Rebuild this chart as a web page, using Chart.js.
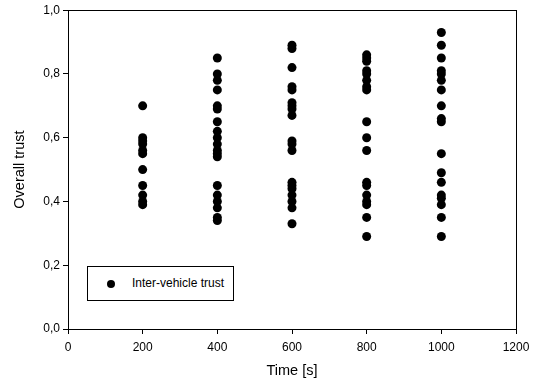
<!DOCTYPE html>
<html>
<head>
<meta charset="utf-8">
<script src="https://cdn.jsdelivr.net/npm/chart.js@4/dist/chart.umd.min.js"></script>
<style>
  html, body { margin: 0; padding: 0; background: #fff; }
  #wrap { position: relative; width: 543px; height: 390px; }
  #legend {
    position: absolute; left: 87px; top: 266px; width: 147px; height: 35px;
    border: 1px solid #000; box-sizing: border-box; background: #fff;
    font-family: "Liberation Sans", Arial, sans-serif; font-size: 12px; color: #000;
  }
  #legend .dot {
    position: absolute; left: 19px; top: 13px; width: 8px; height: 8px;
    border-radius: 50%; background: #000;
  }
  #legend .txt { position: absolute; left: 44px; top: 9px; }
</style>
</head>
<body>
<div id="wrap">
  <canvas id="trustChart" width="543" height="390"></canvas>
  <div id="legend"><span class="dot"></span><span class="txt">Inter-vehicle trust</span></div>
</div>
<script>
// time steps and trust values
const times = [200, 400, 600, 800, 1000];
const trust200 = [0.70, 0.60, 0.59, 0.58, 0.56, 0.55, 0.50, 0.45, 0.42, 0.40, 0.39];
const trust400 = [0.85, 0.80, 0.78, 0.75, 0.70, 0.69, 0.65, 0.62, 0.60, 0.58, 0.56, 0.55, 0.54, 0.45, 0.42, 0.40, 0.38, 0.35, 0.34];
const trust600 = [0.89, 0.88, 0.82, 0.76, 0.75, 0.71, 0.70, 0.69, 0.67, 0.59, 0.58, 0.56, 0.46, 0.45, 0.44, 0.42, 0.40, 0.38, 0.33];
const trust800 = [0.86, 0.85, 0.84, 0.81, 0.80, 0.78, 0.76, 0.75, 0.65, 0.60, 0.56, 0.46, 0.45, 0.42, 0.40, 0.39, 0.35, 0.29];
const trust1000 = [0.93, 0.89, 0.85, 0.81, 0.80, 0.78, 0.75, 0.70, 0.66, 0.65, 0.55, 0.49, 0.46, 0.42, 0.41, 0.39, 0.35, 0.29];
const xTicks = [0, 200, 400, 600, 800, 1000, 1200];
const yTicks = [0, 0.2, 0.4, 0.6, 0.8, 1.0];

const columns = [trust200, trust400, trust600, trust800, trust1000];
const points = [];
columns.forEach((col, i) => {
    col.forEach(v => points.push({ x: times[i], y: v }));
});

const font = { family: '"Liberation Sans", Arial, sans-serif', size: 12 };
const titleFont = { family: '"Liberation Sans", Arial, sans-serif', size: 14.5 };

// box around the plot area
const frame = {
    id: 'frame',
    afterDraw(chart) {
        const a = chart.chartArea;
        const ctx = chart.ctx;
        ctx.save();
        ctx.strokeStyle = '#000';
        ctx.lineWidth = 1;
        ctx.strokeRect(Math.round(a.left) + 0.5, Math.round(a.top) + 0.5,
            Math.round(a.right - a.left), Math.round(a.bottom - a.top));
        ctx.restore();
    }
};

new Chart(document.getElementById('trustChart'), {
    type: 'scatter',
    data: {
        datasets: [{
            label: 'Inter-vehicle trust',
            data: points,
            backgroundColor: '#000',
            borderColor: '#000',
            borderWidth: 0,
            pointRadius: 4.5,
            pointHoverRadius: 4.5
        }]
    },
    options: {
        responsive: false,
        animation: false,
        layout: { padding: { top: 5, right: 27, left: 0, bottom: 0 } },
        plugins: {
            legend: { display: false },
            tooltip: { enabled: false }
        },
        scales: {
            x: {
                type: 'linear',
                min: 0,
                max: 1200,
                afterBuildTicks: s => { s.ticks = xTicks.map(v => ({ value: v })); },
                afterFit: s => { s.height = 61; },
                grid: { drawOnChartArea: false, tickLength: 5, color: '#000' },
                border: { color: '#000' },
                ticks: { color: '#000', font: font, padding: 6, maxRotation: 0, callback: v => String(v) },
                title: { display: true, text: 'Time [s]', color: '#000', font: titleFont, padding: { top: 0, bottom: 10 } }
            },
            y: {
                min: 0,
                max: 1,
                afterBuildTicks: s => { s.ticks = yTicks.map(v => ({ value: v })); },
                afterFit: s => { s.width = 68; },
                grid: { drawOnChartArea: false, tickLength: 5, color: '#000' },
                border: { color: '#000' },
                ticks: {
                    color: '#000', font: font, padding: 3,
                    callback: v => v.toFixed(1).replace('.', ',')
                },
                title: { display: true, text: 'Overall trust', color: '#000', font: titleFont, padding: { top: 11, bottom: 0 } }
            }
        }
    },
    plugins: [frame]
});
</script>
</body>
</html>
